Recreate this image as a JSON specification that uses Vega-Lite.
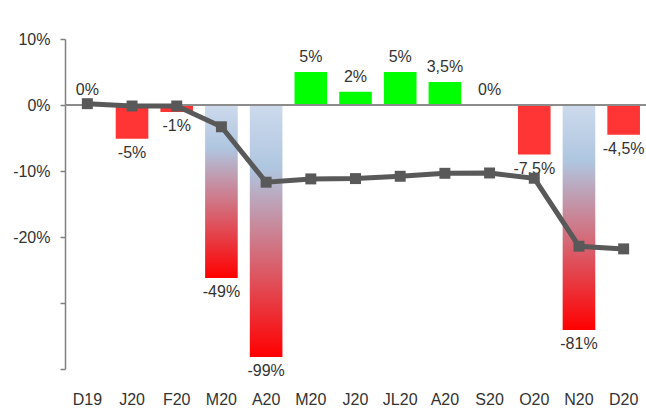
{
  "$schema": "https://vega.github.io/schema/vega-lite/v6.json",
  "width": 581,
  "height": 330,
  "autosize": {"type": "none"},
  "padding": {"left": 65, "top": 39, "right": 0, "bottom": 43},
  "background": "white",
  "config": {
    "view": {"stroke": null},
    "font": "Liberation Sans",
    "text": {"font": "Liberation Sans", "fontSize": 16, "color": "#333333"}
  },
  "data": {
    "values": [
      {"key": "2019-12|D19", "v": 0, "lab": "0%", "kind": "pos", "line": 0.2},
      {"key": "2020-01|J20", "v": -5.1, "lab": "-5%", "kind": "neg", "line": -0.15},
      {"key": "2020-02|F20", "v": -1.05, "lab": "-1%", "kind": "neg", "line": -0.15},
      {"key": "2020-03|M20", "v": -26.2, "lab": "-49%", "kind": "grad", "line": -3.3},
      {"key": "2020-04|A20", "v": -38.2, "lab": "-99%", "kind": "grad", "line": -11.7},
      {"key": "2020-05|M20", "v": 5.0, "lab": "5%", "kind": "pos", "line": -11.2},
      {"key": "2020-06|J20", "v": 2.0, "lab": "2%", "kind": "pos", "line": -11.15},
      {"key": "2020-07|JL20", "v": 5.0, "lab": "5%", "kind": "pos", "line": -10.8},
      {"key": "2020-08|A20", "v": 3.5, "lab": "3,5%", "kind": "pos", "line": -10.35},
      {"key": "2020-09|S20", "v": 0, "lab": "0%", "kind": "pos", "line": -10.3},
      {"key": "2020-10|O20", "v": -7.5, "lab": "-7,5%", "kind": "neg", "line": -11.1},
      {"key": "2020-11|N20", "v": -34.1, "lab": "-81%", "kind": "grad", "line": -21.4},
      {"key": "2020-12|D20", "v": -4.5, "lab": "-4,5%", "kind": "neg", "line": -21.8}
    ]
  },
  "encoding": {
    "x": {
      "field": "key",
      "type": "nominal",
      "sort": "ascending",
      "scale": {
        "type": "band",
        "paddingInner": 0.27,
        "paddingOuter": 0.135,
        "domain": ["2019-12|D19", "2020-01|J20", "2020-02|F20", "2020-03|M20", "2020-04|A20", "2020-05|M20", "2020-06|J20", "2020-07|JL20", "2020-08|A20", "2020-09|S20", "2020-10|O20", "2020-11|N20", "2020-12|D20"]
      },
      "axis": {
        "title": null,
        "labelExpr": "split(datum.value, '|')[1]",
        "labelAngle": 0,
        "domain": false,
        "ticks": false,
        "tickSize": 0,
        "labelPadding": 22,
        "labelFont": "Liberation Sans",
        "labelFontSize": 16,
        "labelColor": "#333333"
      }
    }
  },
  "layer": [
    {
      "transform": [{"filter": "datum.kind == 'pos'"}],
      "mark": {"type": "bar", "color": "#00ff00"},
      "encoding": {
        "y": {
          "field": "v",
          "type": "quantitative",
          "scale": {"domain": [-40, 10], "nice": false, "zero": false},
          "axis": {
            "title": null,
            "values": [10, 0, -10, -20, -30, -40],
            "labelExpr": "datum.value < -25 ? '' : datum.value + '%'",
            "grid": false,
            "domainColor": "#808080",
            "domainWidth": 1.5,
            "tickColor": "#808080",
            "tickWidth": 1.5,
            "tickSize": 5,
            "labelPadding": 10,
            "labelFont": "Liberation Sans",
            "labelFontSize": 16,
            "labelColor": "#333333"
          }
        },
        "y2": {"datum": 0}
      }
    },
    {
      "transform": [{"filter": "datum.kind == 'neg'"}],
      "mark": {"type": "bar", "color": "#ff3535"},
      "encoding": {
        "y": {"field": "v", "type": "quantitative"},
        "y2": {"datum": 0}
      }
    },
    {
      "transform": [{"filter": "datum.kind == 'grad'"}],
      "mark": {
        "type": "bar",
        "color": {
          "gradient": "linear",
          "x1": 0, "y1": 0, "x2": 0, "y2": 1,
          "stops": [
            {"offset": 0, "color": "#cddaec"},
            {"offset": 0.25, "color": "#afc6e0"},
            {"offset": 1, "color": "#ff0000"}
          ]
        }
      },
      "encoding": {
        "y": {"field": "v", "type": "quantitative"},
        "y2": {"datum": 0}
      }
    },
    {
      "mark": {"type": "rule", "color": "#8c8c8c", "strokeWidth": 1.5},
      "encoding": {"y": {"datum": 0}, "x": null}
    },
    {
      "transform": [{"filter": "datum.v >= 0"}],
      "mark": {"type": "text", "baseline": "bottom", "dy": -7, "fontSize": 16, "color": "#333333"},
      "encoding": {
        "y": {"field": "v", "type": "quantitative"},
        "text": {"field": "lab"}
      }
    },
    {
      "transform": [{"filter": "datum.v < 0"}],
      "mark": {"type": "text", "baseline": "top", "dy": 6, "fontSize": 16, "color": "#333333"},
      "encoding": {
        "y": {"field": "v", "type": "quantitative"},
        "text": {"field": "lab"}
      }
    },
    {
      "mark": {
        "type": "line",
        "color": "#595959",
        "strokeWidth": 5,
        "point": {"shape": "square", "size": 120, "filled": true, "color": "#595959", "opacity": 1}
      },
      "encoding": {
        "y": {"field": "line", "type": "quantitative"}
      }
    }
  ]
}
